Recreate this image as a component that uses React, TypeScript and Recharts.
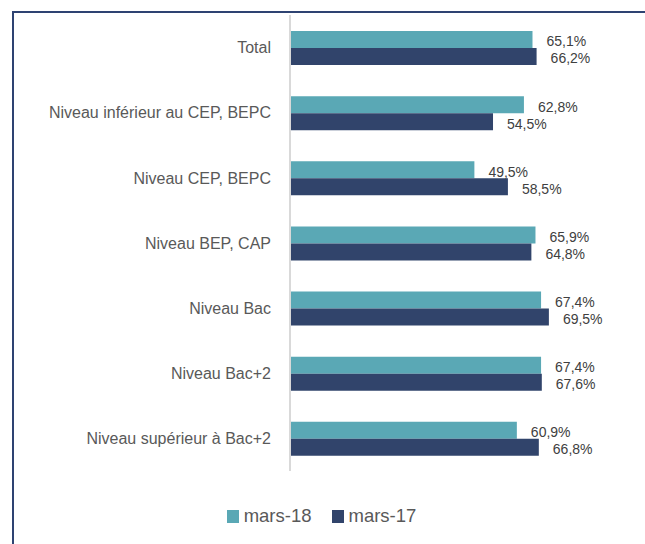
import React from 'react'
import { BarChart, Bar, XAxis, YAxis, Legend, LabelList } from 'recharts'

const categories = [
  'Total',
  'Niveau inférieur au CEP, BEPC',
  'Niveau CEP, BEPC',
  'Niveau BEP, CAP',
  'Niveau Bac',
  'Niveau Bac+2',
  'Niveau supérieur à Bac+2',
]
const seriesNames = ['mars-18', 'mars-17']
const mars18 = [65.1, 62.8, 49.5, 65.9, 67.4, 67.4, 60.9]
const mars17 = [66.2, 54.5, 58.5, 64.8, 69.5, 67.6, 66.8]

const TEAL = '#5aa8b5'
const NAVY = '#31446b'
const FONT = '"Liberation Sans", Arial, sans-serif'

const data = categories.map((c, i) => ({ name: c, m18: mars18[i], m17: mars17[i] }))

const fmt = (v: any) => Number(v).toFixed(1).replace('.', ',') + '%'

const LegendContent = (props: any) => {
  const items = [...(props.payload || [])].sort(
    (a: any, b: any) => seriesNames.indexOf(a.value) - seriesNames.indexOf(b.value)
  )
  return (
    <div style={{ display: 'flex', justifyContent: 'center', height: 20, alignItems: 'center', fontFamily: FONT }}>
      {items.map((it: any, i: number) => (
        <div key={i} style={{ display: 'flex', alignItems: 'center', marginRight: i === 0 ? 20 : 0 }}>
          <span style={{ width: 12, height: 13, background: it.color, display: 'inline-block', marginRight: 5 }} />
          <span style={{ fontSize: 18.5, color: '#595959' }}>{it.value}</span>
        </div>
      ))}
    </div>
  )
}

const App: React.FC = () => {
  return (
    <div style={{ position: 'fixed', top: 0, left: 0, width: 645, height: 544, background: '#fff', overflow: 'hidden' }}>
      <div
        style={{
          position: 'absolute',
          left: 12,
          top: 11,
          width: 631,
          height: 540,
          borderTop: '2px solid #2e4372',
          borderLeft: '2px solid #2e4372',
        }}
      />
      <div style={{ position: 'absolute', left: 0, top: 0 }}>
        <BarChart
          width={645}
          height={544}
          data={data}
          layout="vertical"
          margin={{ top: 15, right: 57, left: 20, bottom: 53 }}
          barSize={17}
          barGap={0}
        >
          <XAxis type="number" domain={[0, 80]} hide />
          <YAxis
            type="category"
            dataKey="name"
            width={270}
            axisLine={{ stroke: '#d9d9d9', strokeWidth: 2 }}
            tickLine={false}
            tickSize={0}
            tickMargin={19}
            tick={{ fill: '#595959', fontSize: 16, fontFamily: FONT }}
          />
          <Legend
            verticalAlign="bottom"
            wrapperStyle={{ top: 506, bottom: 'auto', left: 0, width: 643 }}
            content={<LegendContent />}
          />
          <Bar dataKey="m18" name={seriesNames[0]} fill={TEAL} isAnimationActive={false}>
            <LabelList dataKey="m18" position="right" offset={14} formatter={fmt} fill="#404040" fontSize={14} fontFamily={FONT} dy={2} />
          </Bar>
          <Bar dataKey="m17" name={seriesNames[1]} fill={NAVY} isAnimationActive={false}>
            <LabelList dataKey="m17" position="right" offset={14} formatter={fmt} fill="#404040" fontSize={14} fontFamily={FONT} dy={2} />
          </Bar>
        </BarChart>
      </div>
    </div>
  )
}

export default App
